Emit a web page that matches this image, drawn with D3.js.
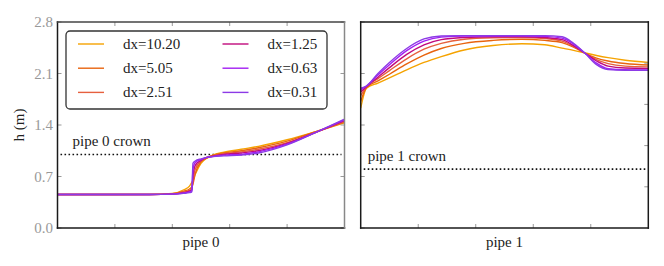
<!DOCTYPE html>
<html>
<head>
<meta charset="utf-8">
<script src="https://cdn.jsdelivr.net/npm/d3@7"></script>
<style>
  body { margin: 0; background: #fff; }
  svg text { font-family: "Liberation Serif", "Times New Roman", "DejaVu Serif", serif; }
</style>
</head>
<body>
<div id="chart"></div>
<script>
// series labels and colours
var labels = ["dx=10.20", "dx=5.05", "dx=2.51", "dx=1.25", "dx=0.63", "dx=0.31"];
var colors = ["#f5a300", "#e8640f", "#e6603e", "#c00a7c", "#a21ff2", "#8c3ae6"];

// pipe 0 (left panel)
var x0 = [0, 1, 1.6, 2.0, 2.2, 2.3, 2.34, 2.36, 2.4, 2.5, 2.6, 2.7, 2.9, 3.2, 3.5, 4, 4.5, 5];
var h0 = [
  [0.455, 0.455, 0.457, 0.47, 0.52, 0.57, 0.62, 0.65, 0.73, 0.88, 0.95, 0.99, 1.03, 1.07, 1.11, 1.20, 1.31, 1.43],
  [0.455, 0.455, 0.456, 0.465, 0.50, 0.53, 0.56, 0.60, 0.74, 0.90, 0.95, 0.985, 1.02, 1.05, 1.09, 1.18, 1.31, 1.44],
  [0.455, 0.455, 0.455, 0.46, 0.49, 0.51, 0.53, 0.62, 0.80, 0.91, 0.955, 0.98, 1.01, 1.035, 1.07, 1.16, 1.30, 1.45],
  [0.455, 0.455, 0.455, 0.46, 0.48, 0.50, 0.52, 0.70, 0.85, 0.92, 0.96, 0.975, 1.0, 1.02, 1.05, 1.15, 1.30, 1.46],
  [0.455, 0.455, 0.455, 0.46, 0.475, 0.49, 0.50, 0.80, 0.89, 0.93, 0.96, 0.97, 0.99, 1.0, 1.035, 1.14, 1.30, 1.47],
  [0.455, 0.455, 0.455, 0.46, 0.47, 0.48, 0.49, 0.88, 0.91, 0.94, 0.96, 0.97, 0.98, 0.99, 1.02, 1.13, 1.30, 1.48]
];

// pipe 1 (right panel)
var x1 = [0, 0.1, 0.3, 0.5, 0.8, 1.1, 1.4, 1.8, 2.3, 2.8, 3.2, 3.5, 3.7, 3.9, 4.1, 4.3, 4.6, 5];
var h1 = [
  [1.63, 1.90, 1.97, 2.04, 2.15, 2.25, 2.33, 2.42, 2.48, 2.505, 2.49, 2.445, 2.415, 2.38, 2.345, 2.315, 2.28, 2.25],
  [1.72, 1.91, 2.00, 2.09, 2.23, 2.35, 2.44, 2.51, 2.55, 2.565, 2.55, 2.52, 2.46, 2.375, 2.31, 2.27, 2.235, 2.215],
  [1.80, 1.92, 2.03, 2.14, 2.30, 2.43, 2.51, 2.565, 2.585, 2.59, 2.575, 2.54, 2.47, 2.375, 2.29, 2.235, 2.20, 2.19],
  [1.85, 1.92, 2.05, 2.18, 2.36, 2.49, 2.56, 2.59, 2.60, 2.60, 2.59, 2.56, 2.48, 2.375, 2.27, 2.20, 2.175, 2.17],
  [1.88, 1.93, 2.08, 2.22, 2.41, 2.54, 2.595, 2.61, 2.61, 2.61, 2.605, 2.58, 2.50, 2.375, 2.24, 2.165, 2.15, 2.148],
  [1.90, 1.93, 2.10, 2.25, 2.44, 2.57, 2.61, 2.615, 2.615, 2.615, 2.615, 2.60, 2.51, 2.375, 2.22, 2.155, 2.145, 2.145]
];

var crowns = [1.0, 0.8];
var panelNames = ["pipe 0", "pipe 1"];
var yTicksLeft = [0.0, 0.7, 1.4, 2.1, 2.8];
var yTicksRight1 = [0.56, 1.12, 1.68, 2.24];
var xTicks = [1, 2, 3, 4];

var W = 664, H = 266, fs = 15;
var svg = d3.select("#chart").append("svg")
  .attr("width", W).attr("height", H);

var yTop = 22, yBot = 228;
var y = d3.scaleLinear().domain([0, 2.8]).range([yBot, yTop]);

var panels = [
  {left: 57.5, right: 344.5, xs: x0, hs: h0, crownDx: 15},
  {left: 360.7, right: 648.3, xs: x1, hs: h1, crownDx: 7}
];

var tickCol = "#999";

panels.forEach(function(p, pi) {
  var x = d3.scaleLinear().domain([0, 5]).range([p.left, p.right]);
  var g = svg.append("g");

  // clip
  g.append("clipPath").attr("id", "clip" + pi)
    .append("rect").attr("x", p.left).attr("y", yTop)
    .attr("width", p.right - p.left).attr("height", yBot - yTop);

  // crown line
  g.append("line")
    .attr("x1", p.left + 3).attr("x2", p.right - 3)
    .attr("y1", y(crowns[pi])).attr("y2", y(crowns[pi]))
    .attr("stroke", "#111").attr("stroke-width", 1.6)
    .attr("stroke-dasharray", "1.6,2.4");
  g.append("text")
    .attr("x", p.left + p.crownDx).attr("y", y(crowns[pi]) - 8)
    .attr("font-size", fs).attr("fill", "#222")
    .text(panelNames[pi] + " crown");

  // series
  var line = d3.line()
    .x(function(d) { return x(d[0]); })
    .y(function(d) { return y(d[1]); })
    .curve(d3.curveMonotoneX);
  var lg = g.append("g").attr("clip-path", "url(#clip" + pi + ")");
  p.hs.forEach(function(hs, si) {
    var pts = p.xs.map(function(v, i) { return [v, hs[i]]; });
    lg.append("path").datum(pts)
      .attr("d", line)
      .attr("fill", "none")
      .attr("stroke", colors[si])
      .attr("stroke-width", 1.4);
  });

  // ticks (inward)
  xTicks.forEach(function(t) {
    g.append("line").attr("x1", x(t)).attr("x2", x(t))
      .attr("y1", yBot).attr("y2", yBot - 4).attr("stroke", tickCol);
    g.append("line").attr("x1", x(t)).attr("x2", x(t))
      .attr("y1", yTop).attr("y2", yTop + 4).attr("stroke", tickCol);
  });
  yTicksLeft.forEach(function(t) {
    g.append("line").attr("x1", p.left).attr("x2", p.left + 4)
      .attr("y1", y(t)).attr("y2", y(t)).attr("stroke", tickCol);
  });
  var rTicks = pi == 0 ? yTicksLeft : yTicksRight1;
  rTicks.forEach(function(t) {
    g.append("line").attr("x1", p.right).attr("x2", p.right - 4)
      .attr("y1", y(t)).attr("y2", y(t)).attr("stroke", tickCol);
  });

  // frame
  var dark = "#1a1a1a";
  var frame = pi == 0
    ? [["l", dark], ["b", dark], ["t", "#444"], ["r", "#888"]]
    : [["l", dark], ["b", dark], ["t", dark], ["r", dark]];
  frame.forEach(function(f) {
    var ln = g.append("line").attr("stroke", f[1]).attr("stroke-width", 1.5)
      .attr("stroke-linecap", "square");
    if (f[0] == "l") ln.attr("x1", p.left).attr("x2", p.left).attr("y1", yTop).attr("y2", yBot);
    if (f[0] == "r") ln.attr("x1", p.right).attr("x2", p.right).attr("y1", yTop).attr("y2", yBot);
    if (f[0] == "t") ln.attr("x1", p.left).attr("x2", p.right).attr("y1", yTop).attr("y2", yTop);
    if (f[0] == "b") ln.attr("x1", p.left).attr("x2", p.right).attr("y1", yBot).attr("y2", yBot);
  });

  // x label
  g.append("text")
    .attr("x", (p.left + p.right) / 2).attr("y", 247)
    .attr("text-anchor", "middle").attr("font-size", fs).attr("fill", "#222")
    .text(panelNames[pi]);
});

// y tick labels (left panel only)
yTicksLeft.forEach(function(t) {
  svg.append("text")
    .attr("x", 53).attr("y", y(t) + 5)
    .attr("text-anchor", "end").attr("font-size", fs).attr("fill", "#999")
    .text(d3.format(".1f")(t));
});

// y axis title
svg.append("text")
  .attr("transform", "translate(24," + y(1.4) + ")rotate(-90)")
  .attr("text-anchor", "middle").attr("font-size", fs).attr("fill", "#222")
  .text("h (m)");

// legend
var leg = svg.append("g");
leg.append("rect")
  .attr("x", 66).attr("y", 31).attr("width", 261).attr("height", 78)
  .attr("rx", 4).attr("fill", "#fff")
  .attr("stroke", "#333").attr("stroke-width", 1.3);
labels.forEach(function(l, i) {
  var col = Math.floor(i / 3), row = i % 3;
  var lx = 78 + col * 144.5, ly = 44 + row * 24.2;
  leg.append("line")
    .attr("x1", lx).attr("x2", lx + 26)
    .attr("y1", ly).attr("y2", ly)
    .attr("stroke", colors[i]).attr("stroke-width", 1.4);
  leg.append("text")
    .attr("x", lx + 45).attr("y", ly + 5)
    .attr("font-size", fs).attr("fill", "#222")
    .text(l);
});
</script>
</body>
</html>
